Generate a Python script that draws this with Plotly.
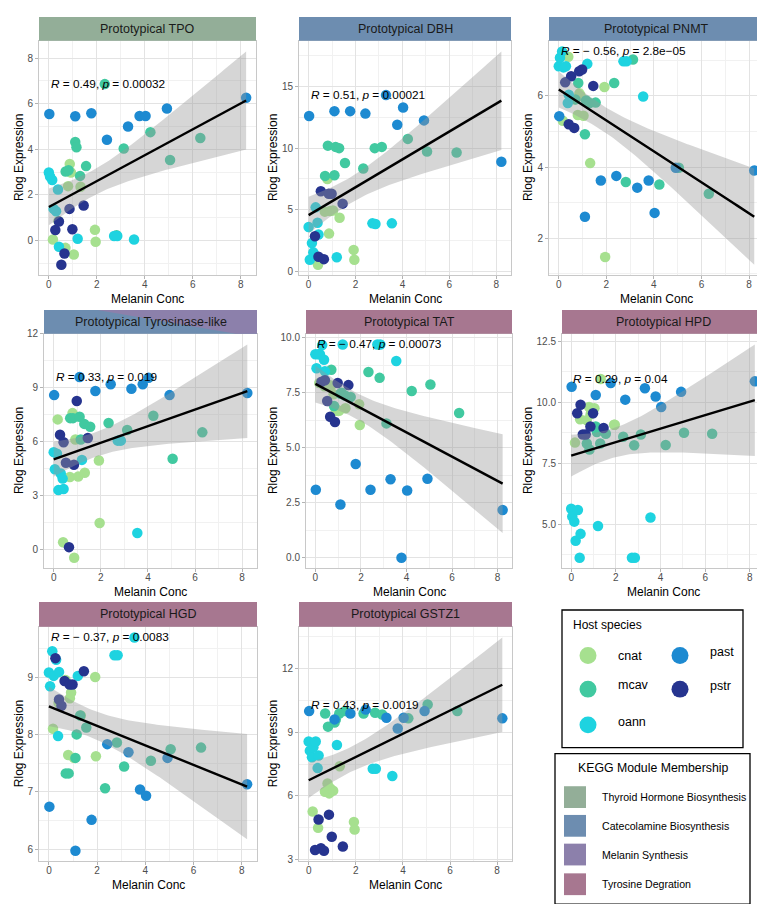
import numpy as np
import plotly.graph_objects as go

W, H = 765, 904
FONT = "Liberation Sans, Arial, Helvetica, sans-serif"

# host species colours
host_colors = {"cnat": "#a6e08f", "mcav": "#41c9a0", "oann": "#1ed3e0",
               "past": "#1d8ad1", "pstr": "#26348f"}
kegg_colors = {"Thyroid Hormone Biosynthesis": "#93ae98",
               "Catecolamine Biosynthesis": "#6d8db0",
               "Melanin Synthesis": "#8c80ab",
               "Tyrosine Degration": "#a77790"}

# samples: cnat(10), mcav(12), oann(11), past(9), pstr(7)
host = ["cnat"] * 10 + ["mcav"] * 12 + ["oann"] * 11 + ["past"] * 9 + ["pstr"] * 7
melanin = [0.17, 0.4, 0.69, 0.8, 0.87, 0.92, 1.04, 1.32, 1.92, 1.95,
           0.7, 0.82, 1.1, 1.15, 1.3, 1.55, 2.33, 2.82, 3.12, 4.23, 5.05, 6.31,
           0.0, 0.05, 0.14, 0.2, 0.3, 0.38, 0.42, 1.2, 2.72, 2.85, 3.55,
           0.02, 1.1, 1.77, 2.42, 3.3, 3.78, 4.03, 4.92, 8.22,
           0.27, 0.42, 0.52, 0.65, 0.86, 0.98, 1.45]

tpo = [0.04, 0.85, -0.33, 2.38, 3.35, 2.98, -0.62, 2.35, 0.46, -0.06,
       3.02, 3.08, 4.32, 4.09, 2.83, 3.26, 6.86, 0.22, 4.03, 4.75, 3.53, 4.49,
       2.98, 2.8, 2.65, 1.38, 1.28, 2.23, -0.28, 0.07, 0.19, 0.19, 0.04,
       5.55, 5.45, 5.58, 4.42, 5.0, 5.46, 5.46, 5.79, 6.26,
       0.45, 0.83, -1.07, -0.58, 1.38, 0.49, 1.53]
dbh = [1.0, 0.55, 4.85, 7.5, 3.07, 4.9, 4.95, 4.35, 1.75, 0.95,
       7.75, 10.2, 7.8, 10.1, 10.0, 8.8, 8.35, 10.0, 10.1, 10.75, 9.73, 9.65,
       3.6, 0.95, 2.3, 1.55, 5.2, 3.95, 3.0, 1.15, 3.9, 3.85, 3.9,
       12.6, 13.0, 13.0, 12.8, 14.3, 11.9, 13.3, 12.25, 8.9,
       2.85, 1.2, 6.5, 1.0, 6.3, 6.3, 5.5]
pnmt = [5.3, 7.1, 5.9, 5.46, 6.07, 6.0, 5.44, 4.11, 6.25, 1.47,
        5.9, 6.36, 4.92, 5.87, 5.8, 5.81, 6.36, 3.58, 7.02, 3.51, 3.98, 3.25,
        6.83, 7.07, 7.25, 6.8, 6.83, 5.8, 6.03, 6.9, 6.97, 6.97, 5.98,
        5.43, 2.6, 3.62, 3.75, 3.42, 3.62, 2.71, 3.98, 3.9,
        6.38, 5.2, 6.55, 5.1, 6.69, 6.74, 6.28]
tyr = [7.25, 0.42, 4.05, 7.6, -0.44, 6.13, 4.07, 4.28, 4.97, 1.49,
       7.32, 7.32, 7.4, 6.13, 7.0, 6.84, 7.05, 6.1, 6.66, 7.45, 5.06, 6.53,
       5.43, 4.48, 5.34, 3.32, 4.24, 3.96, 3.38, 5.0, 6.07, 6.07, 0.94,
       8.6, 9.6, 8.83, 9.2, 8.95, 9.2, 9.56, 8.6, 8.72,
       6.4, 5.98, 4.84, 0.15, 4.73, 8.27, 6.22]
tat = [7.95, 7.8, 7.83, 7.43, 6.8, 6.68, 6.68, 6.8, 6.98, 6.04,
       8.55, 6.9, 7.46, 7.5, 7.38, 7.31, 8.45, 8.18, 6.11, 7.58, 7.88, 6.58,
       9.25, 8.62, 9.25, 9.25, 9.67, 9.0, 8.48, 9.7, 9.7, 9.7, 8.95,
       3.09, 2.42, 4.26, 3.09, 3.57, 0.0, 3.06, 3.59, 2.17,
       8.0, 8.07, 7.13, 6.41, 6.17, 7.95, 7.85]
hpd = [8.34, 9.3, 9.26, 9.8, 9.5, 9.6, 9.75, 10.95, 9.07, 9.07,
       8.3, 8.06, 9.0, 8.77, 8.3, 8.7, 8.58, 8.23, 8.67, 8.24, 8.74, 8.7,
       5.63, 5.31, 5.1, 4.32, 5.58, 3.62, 4.6, 4.92, 3.62, 3.62, 5.27,
       10.63, 10.29, 10.78, 10.1, 10.57, 10.23, 9.8, 10.42, 10.85,
       9.54, 9.89, 8.67, 8.67, 9.0, 9.54, 8.94]
hgd = [8.1, 8.55, 8.95, 7.64, 8.63, 8.73, 7.59, 8.33, 9.0, 7.62,
       7.32, 7.32, 7.59, 8.0, 8.33, 8.12, 7.06, 7.86, 7.44, 7.54, 7.74, 7.77,
       9.08, 8.84, 9.45, 9.02, 9.3, 7.97, 9.09, 9.02, 9.38, 9.38, 9.69,
       6.74, 5.97, 6.51, 7.83, 7.69, 7.04, 6.93, 7.59, 7.13,
       9.33, 8.61, 8.5, 8.93, 8.87, 8.87, 9.1]
gstz1 = [5.27, 4.5, 6.2, 6.59, 6.12, 6.35, 6.25, 7.4, 4.78, 4.42,
         9.88, 9.26, 9.45, 9.6, 9.88, 9.99, 9.88, 9.91, 9.83, 9.65, 10.3, 9.99,
         8.56, 8.13, 7.82, 8.29, 8.56, 7.31, 7.9, 8.4, 7.28, 7.28, 6.94,
         9.99, 9.6, 9.88, 10.06, 9.68, 9.17, 9.68, 9.99, 9.65,
         3.46, 4.89, 3.54, 3.42, 5.12, 4.08, 3.62]

titles = ["Prototypical TPO", "Prototypical DBH", "Prototypical PNMT",
          "Prototypical Tyrosinase-like", "Prototypical TAT", "Prototypical HPD",
          "Prototypical HGD", "Prototypical GSTZ1"]
genes = [tpo, dbh, pnmt, tyr, tat, hpd, hgd, gstz1]
cor_labels = ["<i>R</i> = 0.49, <i>p</i> = 0.00032",
              "<i>R</i> = 0.51, <i>p</i> = 0.00021",
              "<i>R</i> = \u2212 0.56, <i>p</i> = 2.8e\u221205",
              "<i>R</i> = 0.33, <i>p</i> = 0.019",
              "<i>R</i> = \u2212 0.47, <i>p</i> = 0.00073",
              "<i>R</i> = 0.29, <i>p</i> = 0.04",
              "<i>R</i> = \u2212 0.37, <i>p</i> = 0.0083",
              "<i>R</i> = 0.43, <i>p</i> = 0.0019"]
strip_fill = ["Thyroid Hormone Biosynthesis", "Catecolamine Biosynthesis",
              "Catecolamine Biosynthesis", "Catecolamine Biosynthesis",
              "Tyrosine Degration", "Tyrosine Degration",
              "Tyrosine Degration", "Tyrosine Degration"]
y_dticks = [2, 5, 2, 3, 2.5, 2.5, 1, 3]
y_formats = ["", "", "", "", ".1f", ".1f", "", ""]

# panel boxes in pixels: left, right, strip top, plot top, plot bottom
panels = [(31, 248, 4, 28, 265), (291, 503, 4, 28, 265), (541, 756, 4, 28, 265),
          (36, 249, 300, 324, 561), (298, 504, 300, 324, 561), (554, 756, 300, 324, 561),
          (31, 249, 595, 620, 857), (291, 504, 595, 620, 857)]
ytitle_x = [11, 265, 520]


def fx(p):
    return p / W


def fy(p):
    return 1 - p / H


def smooth(x, y):
    n = len(x)
    b, a = np.polyfit(x, y, 1)
    xs = np.linspace(x.min(), x.max(), 80)
    fit = a + b * xs
    resid = y - (a + b * x)
    s = np.sqrt((resid ** 2).sum() / (n - 2))
    se = s * np.sqrt(1 / n + (xs - x.mean()) ** 2 / ((x - x.mean()) ** 2).sum())
    t = 2.012  # t quantile, 0.975, df = 47
    return xs, fit, fit - t * se, fit + t * se


fig = go.Figure()
shapes, annotations = [], []
x = np.array(melanin)
hosts = np.array(host)

for i, (gene, title) in enumerate(zip(genes, titles)):
    y = np.array(gene)
    k = "" if i == 0 else str(i + 1)
    xa, ya = "x" + k, "y" + k
    for sp in host_colors:
        m = hosts == sp
        fig.add_trace(go.Scatter(x=x[m], y=y[m], mode="markers", xaxis=xa, yaxis=ya,
                                 marker=dict(size=10.5, color=host_colors[sp], line=dict(width=0)),
                                 showlegend=False, hoverinfo="skip"))
    xs, fit, lo, hi = smooth(x, y)
    fig.add_trace(go.Scatter(x=np.concatenate([xs, xs[::-1]]), y=np.concatenate([hi, lo[::-1]]),
                             fill="toself", fillcolor="rgba(153,153,153,0.4)", line=dict(width=0),
                             mode="lines", xaxis=xa, yaxis=ya, showlegend=False, hoverinfo="skip"))
    fig.add_trace(go.Scatter(x=xs, y=fit, mode="lines", line=dict(color="black", width=2.4),
                             xaxis=xa, yaxis=ya, showlegend=False, hoverinfo="skip"))

    xspan = x.max() - x.min()
    ymin, ymax = min(y.min(), lo.min()), max(y.max(), hi.max())
    yspan = ymax - ymin
    l, r, st, pt, pb = panels[i]
    common = dict(showline=True, mirror=True, linecolor="#c8c8c8", linewidth=1,
                  ticks="outside", ticklen=3, tickcolor="#b3b3b3", tickwidth=1,
                  showgrid=True, gridcolor="#e3e3e3", gridwidth=1, zeroline=False,
                  tickfont=dict(family=FONT, size=10, color="#4d4d4d"))
    fig.layout["xaxis" + k] = dict(common, domain=[fx(l), fx(r)], anchor=ya,
                                   range=[x.min() - 0.05 * xspan, x.max() + 0.05 * xspan],
                                   tick0=0, dtick=2, ticklabelstandoff=-3,
                                   minor=dict(dtick=1, showgrid=True, gridcolor="#f1f1f1", gridwidth=0.6))
    dt = y_dticks[i]
    fig.layout["yaxis" + k] = dict(common, domain=[fy(pb), fy(pt)], anchor=xa,
                                   range=[ymin - 0.05 * yspan, ymax + 0.05 * yspan],
                                   tick0=0, dtick=dt, tickformat=y_formats[i],
                                   minor=dict(dtick=dt / 2, showgrid=True, gridcolor="#f1f1f1", gridwidth=0.6))

    # strip
    if i == 3:
        shapes.append(dict(type="rect", xref="paper", yref="paper", x0=fx(l), x1=fx(r),
                           y0=fy(pt), y1=fy(st), fillcolor=kegg_colors["Catecolamine Biosynthesis"],
                           line=dict(width=0), layer="above"))
        w = r - l
        path = "M {} {} L {} {} L {} {} L {} {} Z".format(
            fx(l + 0.25 * w), fy(st), fx(r), fy(st), fx(r), fy(pt), fx(l + 0.9 * w), fy(pt))
        shapes.append(dict(type="path", xref="paper", yref="paper", path=path,
                           fillcolor=kegg_colors["Melanin Synthesis"], line=dict(width=0), layer="above"))
    else:
        shapes.append(dict(type="rect", xref="paper", yref="paper", x0=fx(l), x1=fx(r),
                           y0=fy(pt), y1=fy(st), fillcolor=kegg_colors[strip_fill[i]],
                           line=dict(width=0), layer="above"))
    annotations.append(dict(text=title, xref="paper", yref="paper", x=fx((l + r) / 2), y=fy((st + pt) / 2),
                            showarrow=False, xanchor="center", yanchor="middle",
                            font=dict(family=FONT, size=12.5, color="#1a1a1a")))
    # axis titles
    annotations.append(dict(text="Melanin Conc", xref="paper", yref="paper", x=fx((l + r) / 2), y=fy(pb + 24),
                            showarrow=False, xanchor="center", yanchor="middle",
                            font=dict(family=FONT, size=12, color="black")))
    annotations.append(dict(text="Rlog Expression", xref="paper", yref="paper", x=fx(ytitle_x[i % 3]),
                            y=fy((pt + pb) / 2), textangle=-90, showarrow=False,
                            xanchor="center", yanchor="middle",
                            font=dict(family=FONT, size=12, color="black")))
    # correlation label
    annotations.append(dict(text=cor_labels[i], xref=xa, yref=ya, x=x.min(), y=y.max(),
                            showarrow=False, xanchor="left", yanchor="middle",
                            font=dict(family=FONT, size=11.8, color="black")))

# host species legend
shapes.append(dict(type="rect", xref="paper", yref="paper", x0=fx(554), x1=fx(735), y0=fy(742), y1=fy(603),
                   line=dict(color="black", width=1.3)))
annotations.append(dict(text="Host species", xref="paper", yref="paper", x=fx(563), y=fy(618),
                        showarrow=False, xanchor="left", yanchor="middle",
                        font=dict(family=FONT, size=12, color="black")))
legend_pos = {"cnat": (580, 649), "mcav": (580, 683), "oann": (580, 719),
              "past": (672, 649), "pstr": (672, 683)}
label_dy = {"cnat": 0, "mcav": -4, "oann": -3, "past": -4, "pstr": -3}
for sp, (cx, cy) in legend_pos.items():
    shapes.append(dict(type="circle", xref="paper", yref="paper", x0=fx(cx - 8.5), x1=fx(cx + 8.5),
                       y0=fy(cy + 8.5), y1=fy(cy - 8.5), fillcolor=host_colors[sp], line=dict(width=0)))
    annotations.append(dict(text=sp, xref="paper", yref="paper", x=fx(cx + 28), y=fy(cy + label_dy[sp]),
                            showarrow=False, xanchor="left", yanchor="middle",
                            font=dict(family=FONT, size=12.5, color="black")))

# KEGG legend
shapes.append(dict(type="rect", xref="paper", yref="paper", x0=fx(547), x1=fx(742), y0=fy(900), y1=fy(748),
                   line=dict(color="black", width=1.3)))
annotations.append(dict(text="KEGG Module Membership", xref="paper", yref="paper", x=fx(645), y=fy(763),
                        showarrow=False, xanchor="center", yanchor="middle",
                        font=dict(family=FONT, size=12.3, color="black")))
for j, (name, col) in enumerate(kegg_colors.items()):
    top = [781, 810, 839, 869][j]
    shapes.append(dict(type="rect", xref="paper", yref="paper", x0=fx(556), x1=fx(578),
                       y0=fy(top + 22), y1=fy(top), fillcolor=col, line=dict(width=0)))
    annotations.append(dict(text=name, xref="paper", yref="paper", x=fx(592), y=fy(top + 11),
                            showarrow=False, xanchor="left", yanchor="middle",
                            font=dict(family=FONT, size=10.6, color="black")))

fig.update_layout(width=W, height=H, margin=dict(l=0, r=0, t=0, b=0),
                  paper_bgcolor="white", plot_bgcolor="white",
                  shapes=shapes, annotations=annotations, showlegend=False,
                  font=dict(family=FONT))
fig.write_html("out.html")
